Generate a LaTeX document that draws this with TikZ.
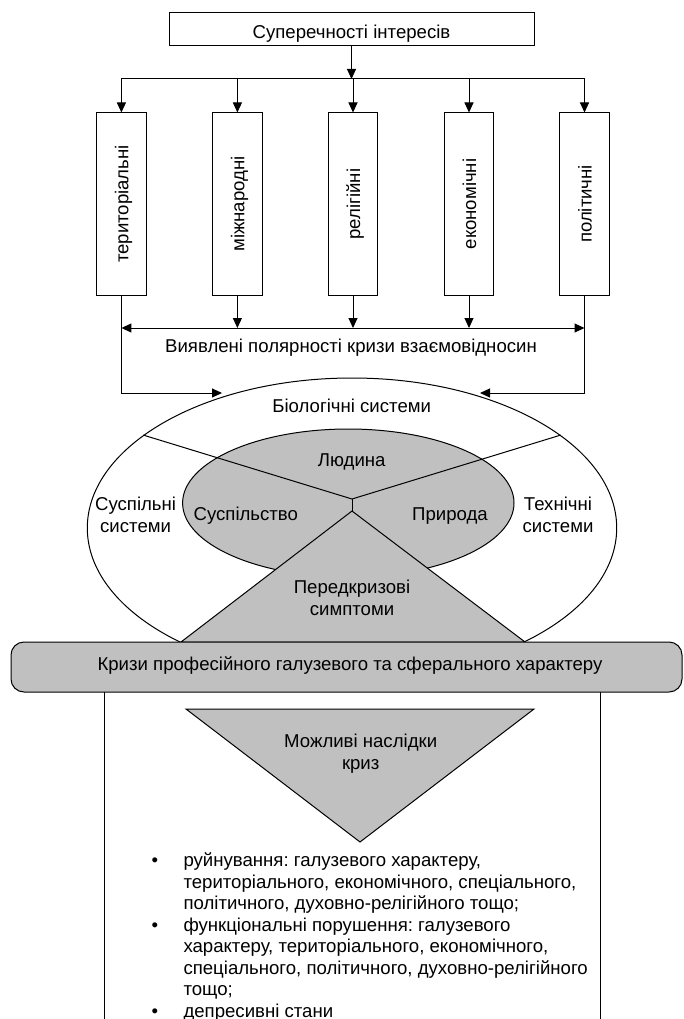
\documentclass[tikz,border=0pt]{standalone}
\usepackage{fontspec}
\setmainfont{Liberation Sans}
\usetikzlibrary{arrows.meta,shapes.geometric}
\definecolor{shade}{RGB}{192,192,192}
\frenchspacing
\tikzset{
  lw/.style={line width=1pt},
  plainbox/.style={draw, lw, fill=white, inner sep=0pt},
  vbox/.style={plainbox, minimum width=49.5pt, minimum height=182pt},
  lbl/.style={anchor=base, inner sep=0pt, align=center},
  vlbl/.style={anchor=base, inner sep=0pt, rotate=90},
  arr/.style={lw, -{Triangle[length=10pt,width=9pt]}},
  darr/.style={lw, {Triangle[length=10pt,width=9pt]}-{Triangle[length=10pt,width=9pt]}},
  conn/.style={lw},
}
\begin{document}
\begin{tikzpicture}[x=1pt, y=-1pt, font=\fontsize{18.6}{21.6}\selectfont, line join=miter]
\useasboundingbox[fill=white] (0,0) rectangle (683,1019);

% top box
\node[plainbox, minimum width=365pt, minimum height=33pt] (top) at (351.5,29.5) {};
\node[lbl] (toptxt) at (351.5,38.7) {Суперечності інтересів};

% vertical boxes
\node[vbox] (b1) at (121.4,204) {};
\node[vbox] (b2) at (237.4,204) {};
\node[vbox] (b3) at (353,204) {};
\node[vbox] (b4) at (469,204) {};
\node[vbox] (b5) at (584.5,204) {};
\node[vlbl] (t1) at (128.4,204) {територіальні};
\node[vlbl] (t2) at (244.4,204) {міжнародні};
\node[vlbl] (t3) at (360,204) {релігійні};
\node[vlbl] (t4) at (476,204) {економічні};
\node[vlbl] (t5) at (591.5,204) {політичні};

% distribution line
\coordinate (hj) at (351.5,79);
\draw[arr] (top.south) -- (top.south |- hj);
\draw[conn] (b1.north |- hj) -- (b5.north |- hj);
\foreach \b in {b1,b2,b3,b4,b5}{
  \draw[arr] (\b.north |- hj) -- (\b.north);
}

% collecting line
\coordinate (hl) at (351.5,328);
\draw[darr] (b1.south |- hl) -- (b5.south |- hl);
\foreach \b in {b2,b3,b4}{
  \draw[arr] (\b.south) -- (\b.south |- hl);
}
\node[lbl] (poltxt) at (351,352.3) {Виявлені полярності кризи взаємовідносин};

% outer ellipse
\node[draw, lw, fill=white, ellipse, inner sep=0pt, minimum width=529.4pt, minimum height=300pt] (outer) at (352,528) {};
\coordinate (inL) at (222,393);
\coordinate (inR) at (480,393);
\draw[arr] (b1.south) |- (inL);
\draw[arr] (b5.south) |- (inR);

% inner ellipse
\node[draw, lw, fill=shade, ellipse, inner sep=0pt, minimum width=331.4pt, minimum height=148pt] (inner) at (348.3,503) {};

% dividing lines
\coordinate (jc) at (352,499);
\coordinate (ja) at (352,511);
\draw[conn] (outer.156) -- (jc) -- (outer.24);
\draw[conn] (jc) -- (ja);

% triangle of pre-crisis symptoms
\coordinate (tl) at (181,642);
\coordinate (tr) at (525,642);
\draw[lw, fill=shade] (ja) -- (tr) -- (tl) -- cycle;

% labels in ellipses
\node[lbl] (bio) at (351.7,412.7) {Біологічні системи};
\node[lbl] (man) at (351.7,466) {Людина};
\node[lbl] (soc) at (245.8,520.7) {Суспільство};
\node[lbl] (nat) at (450,520.7) {Природа};
\node[lbl] (socsys) at (135.6,532.5) {Суспільні\\системи};
\node[lbl] (techsys) at (558,532.5) {Технічні\\системи};
\node[lbl] (pre) at (352,615.5) {Передкризові\\симптоми};

% bottom frame
\coordinate (fl) at (104,1025);
\coordinate (fr) at (600.5,1025);
\draw[conn] (104,680) -- (fl);
\draw[conn] (600.5,680) -- (fr);

% banner
\node[draw, lw, fill=shade, rounded corners=13pt, minimum width=671pt, minimum height=50pt, inner sep=0pt] (banner) at (346.5,667) {};
\node[lbl] (bantxt) at (350,670) {Кризи професійного галузевого та сферального характеру};

% consequences triangle
\coordinate (cl) at (186,709);
\coordinate (cr) at (534,709);
\coordinate (cb) at (360,842);
\draw[lw, fill=shade] (cl) -- (cr) -- (cb) -- cycle;
\node[lbl] (cons) at (360.7,769.2) {Можливі наслідки\\криз};

% bullet list
\tikzset{bul/.style={anchor=base, inner sep=0pt}, ln/.style={anchor=base west, inner sep=0pt}}
\node[bul] (d1) at (155,866.5) {•};
\node[ln] (l1) at (183.3,866.5) {руйнування: галузевого характеру,};
\node[ln] (l2) at (183.3,888) {територіального, економічного, спеціального,};
\node[ln] (l3) at (183.3,909.5) {політичного, духовно-релігійного тощо;};
\node[bul] (d2) at (155,931) {•};
\node[ln] (l4) at (183.3,931) {функціональні порушення: галузевого};
\node[ln] (l5) at (183.3,952.5) {характеру, територіального, економічного,};
\node[ln] (l6) at (183.3,974) {спеціального, політичного, духовно-релігійного};
\node[ln] (l7) at (183.3,995.5) {тощо;};
\node[bul] (d3) at (155,1017) {•};
\node[ln] (l8) at (183.3,1017) {депресивні стани};
\end{tikzpicture}
\end{document}
